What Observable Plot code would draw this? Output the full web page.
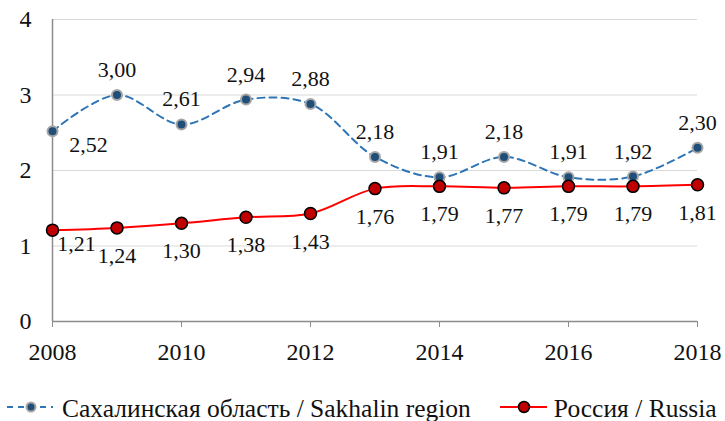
<!DOCTYPE html>
<html>
<head>
<meta charset="utf-8">
<script src="https://cdn.jsdelivr.net/npm/d3@7"></script>
<script src="https://cdn.jsdelivr.net/npm/@observablehq/plot@0.6"></script>
</head>
<body style="margin:0;background:#fff;overflow:hidden;font-family:'Liberation Serif'">
<div id="chart" style="width:725px"></div>
<script>
const years = [2008, 2009, 2010, 2011, 2012, 2013, 2014, 2015, 2016, 2017, 2018];
const sakhalin = [2.52, 3.00, 2.61, 2.94, 2.88, 2.18, 1.91, 2.18, 1.91, 1.92, 2.30];
const russia = [1.21, 1.24, 1.30, 1.38, 1.43, 1.76, 1.79, 1.77, 1.79, 1.79, 1.81];
const xTicks = [2008, 2010, 2012, 2014, 2016, 2018];
const yTicks = [0, 1, 2, 3, 4];
const seriesNames = ["Сахалинская область / Sakhalin region", "Россия / Russia"];

const fmt = v => v.toFixed(2).replace(".", ",");
const sData = years.map((y, i) => ({year: y, value: sakhalin[i], i}));
const rData = years.map((y, i) => ({year: y, value: russia[i], i}));

const font = "Liberation Serif";

const chart = Plot.plot({
  width: 725,
  height: 375,
  marginTop: 19,
  marginBottom: 54,
  marginLeft: 52,
  marginRight: 28,
  style: "font-family: 'Liberation Serif'; font-size: 24px; color: #111; background: #fff;",
  x: {domain: [2008, 2018]},
  y: {domain: [0, 4]},
  marks: [
    Plot.ruleY(yTicks.filter(d => d > 0), {stroke: "#d9d9d9", strokeWidth: 1.2}),
    Plot.ruleY([0], {stroke: "#8c8c8c", strokeWidth: 1.5}),
    Plot.ruleX([2008], {stroke: "#8c8c8c", strokeWidth: 1.5}),
    Plot.axisX({ticks: xTicks, tickFormat: d => String(d), tickSize: 6, tickPadding: 15, stroke: "#8c8c8c", fontSize: 24, fontFamily: font, fill: "#111", label: null}),
    Plot.axisY({ticks: yTicks, tickFormat: d => String(d), tickSize: 0, tickPadding: 21, fontSize: 24, fontFamily: font, fill: "#111", label: null}),
    Plot.line(sData, {x: "year", y: "value", curve: "catmull-rom", stroke: "#2e75b6", strokeWidth: 2, strokeDasharray: "7,5"}),
    Plot.line(rData, {x: "year", y: "value", curve: "catmull-rom", stroke: "#ff0000", strokeWidth: 2}),
    Plot.dot(sData, {x: "year", y: "value", r: 5, fill: "#1f4e79", stroke: "#a6a6a6", strokeWidth: 2}),
    Plot.dot(rData, {x: "year", y: "value", r: 6, fill: "#c00000", stroke: "#000", strokeWidth: 1.5}),
    Plot.text(sData.filter(d => d.i > 0), {x: "year", y: "value", text: d => fmt(d.value), dy: -25, fontSize: 22, fontFamily: font, fill: "#111"}),
    Plot.text(sData.filter(d => d.i === 0), {x: "year", y: "value", text: d => fmt(d.value), dx: 36, dy: 14, fontSize: 22, fontFamily: font, fill: "#111"}),
    Plot.text(rData.filter(d => d.i > 0), {x: "year", y: "value", text: d => fmt(d.value), dy: 28, fontSize: 22, fontFamily: font, fill: "#111"}),
    Plot.text(rData.filter(d => d.i === 0), {x: "year", y: "value", text: d => fmt(d.value), dx: 24, dy: 14, fontSize: 22, fontFamily: font, fill: "#111"})
  ]
});
document.getElementById("chart").appendChild(chart);

const legend = document.createElement("div");
legend.setAttribute("style", "display:flex;align-items:center;height:30px;margin-top:19px;font-family:'Liberation Serif';font-size:25.5px;color:#111;padding-left:7px;white-space:nowrap");
legend.innerHTML = `
  <div style="display:flex;align-items:center">
    <svg width="46" height="20" style="display:block;margin-top:-4px"><line x1="0" y1="10" x2="46" y2="10" stroke="#2e75b6" stroke-width="2" stroke-dasharray="6,5"/><circle cx="24" cy="10" r="4.5" fill="#1f4e79" stroke="#a6a6a6" stroke-width="2"/></svg>
    <span style="margin-left:9px;font-family:'Liberation Serif'">${seriesNames[0]}</span>
  </div>
  <div style="display:flex;align-items:center;margin-left:29px">
    <svg width="47" height="20" style="display:block;margin-top:-4px"><line x1="0" y1="10" x2="47" y2="10" stroke="#ff0000" stroke-width="2"/><circle cx="24" cy="10" r="5.5" fill="#c00000" stroke="#000" stroke-width="1.5"/></svg>
    <span style="margin-left:7px;font-family:'Liberation Serif'">${seriesNames[1]}</span>
  </div>`;
document.body.appendChild(legend);
</script>
</body>
</html>
